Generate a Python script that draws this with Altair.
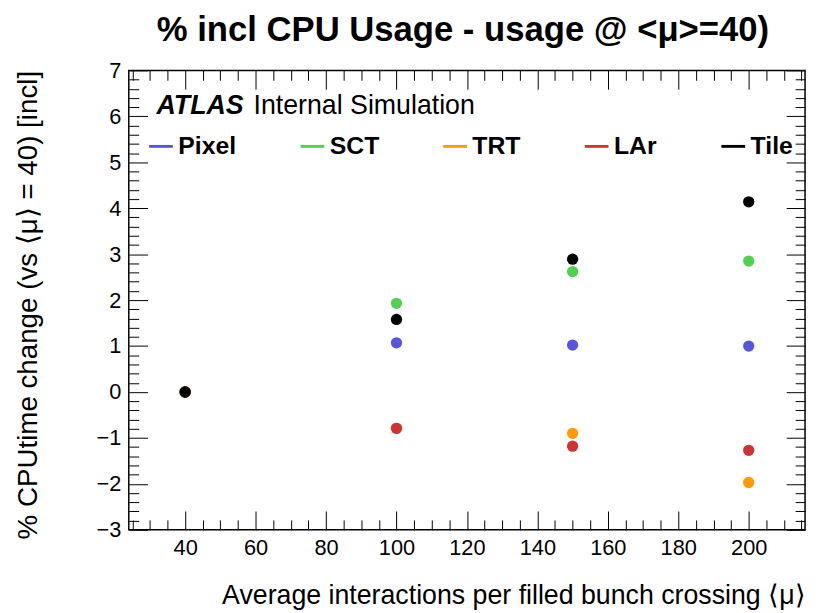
import altair as alt
import pandas as pd

# ---- data ----
mu = [40, 100, 150, 200]
detectors = ["Pixel", "SCT", "TRT", "LAr", "Tile"]
pixel = [0.0, 1.07, 1.02, 1.00]
sct = [0.0, 1.93, 2.62, 2.85]
trt = [0.0, -0.79, -0.90, -1.97]
lar = [0.0, -0.79, -1.18, -1.27]
tile = [0.0, 1.58, 2.89, 4.14]
colors = ["#5656dc", "#52d052", "#ff9a0a", "#cc3333", "#000000"]

x_major = [40, 60, 80, 100, 120, 140, 160, 180, 200]
x_minor = list(range(25, 216, 5))
y_major = list(range(-3, 8))
y_minor = [round(v / 5, 1) for v in range(-15, 36)]

title = "% incl CPU Usage - usage @ <μ>=40)"
x_title = "Average interactions per filled bunch crossing ⟨μ⟩"
y_title = "% CPUtime change (vs ⟨μ⟩ = 40) [incl]"

series = [pixel, sct, trt, lar, tile]
rows = []
for name, vals in zip(detectors, series):
    for m, v in zip(mu, vals):
        rows.append({"mu": m, "change": v, "detector": name})
df = pd.DataFrame(rows)

W, H = 683, 464
FONT = "Liberation Sans"
xs = alt.Scale(domain=[24, 216], nice=False, zero=False)
ys = alt.Scale(domain=[-3, 7], nice=False, zero=False)

x_tick_size = {"condition": {"test": "datum.value % 20 === 0", "value": 19}, "value": 10}
y_tick_size = {"condition": {"test": "abs(datum.value - round(datum.value)) < 0.001", "value": 19}, "value": 10}

points = alt.Chart(df).mark_circle(size=130, opacity=1).encode(
    x=alt.X("mu:Q", scale=xs, axis=alt.Axis(
        orient="bottom", values=x_major, ticks=False, domain=False,
        labelFontSize=22, labelPadding=8, title=x_title, titleAnchor="end",
        titleFontSize=27, titleFontWeight="normal", titlePadding=24)),
    y=alt.Y("change:Q", scale=ys, axis=alt.Axis(
        orient="left", values=y_major, ticks=False, domain=False,
        labelFontSize=22, labelPadding=8, title=y_title, titleAnchor="end",
        titleFontSize=28, titleFontWeight="normal", titlePadding=54)),
    color=alt.Color("detector:N", sort=detectors,
                    scale=alt.Scale(domain=detectors, range=colors),
                    legend=alt.Legend(
                        orient="none", legendX=20, legendY=64, direction="horizontal",
                        columns=5, title=None,
                        symbolType="M-1,-0.12L1,-0.12L1,0.12L-1,0.12Z",
                        symbolSize=576, symbolStrokeWidth=0,
                        labelFont=FONT, labelFontSize=25, labelFontWeight="bold",
                        labelColor="black", labelOffset=5, labelLimit=200,
                        columnPadding=64, gridAlign="each", padding=0)),
)

tickA = alt.Chart(df).mark_circle(opacity=0).encode(
    x=alt.X("mu:Q", scale=xs, axis=alt.Axis(
        orient="top", offset=-H, values=x_minor, tickSize=x_tick_size,
        labels=False, title=None, domain=False)),
    y=alt.Y("change:Q", scale=ys, axis=alt.Axis(
        orient="right", offset=-W, values=y_minor, tickSize=y_tick_size,
        labels=False, title=None, domain=False)),
)
tickB = alt.Chart(df).mark_circle(opacity=0).encode(
    x=alt.X("mu:Q", scale=xs, axis=alt.Axis(
        orient="bottom", offset=-H, values=x_minor, tickSize=x_tick_size,
        labels=False, title=None, domain=False)),
    y=alt.Y("change:Q", scale=ys, axis=alt.Axis(
        orient="left", offset=-W, values=y_minor, tickSize=y_tick_size,
        labels=False, title=None, domain=False)),
)

title_mark = alt.Chart(pd.DataFrame({"t": [title]})).mark_text(
    align="center", baseline="alphabetic", font=FONT, fontSize=35,
    fontWeight="bold", color="black"
).encode(x=alt.value(W / 2 - 4), y=alt.value(-30), text="t:N")

atlas = alt.Chart(pd.DataFrame({"t": ["ATLAS"]})).mark_text(
    align="left", baseline="alphabetic", font=FONT, fontSize=27,
    fontWeight="bold", fontStyle="italic", color="black"
).encode(x=alt.value(28), y=alt.value(44), text="t:N")
internal = alt.Chart(pd.DataFrame({"t": ["Internal Simulation"]})).mark_text(
    align="left", baseline="alphabetic", font=FONT, fontSize=27, color="black"
).encode(x=alt.value(126), y=alt.value(44), text="t:N")

chart = alt.layer(tickA, tickB, points, title_mark, atlas, internal).resolve_axis(
    x="independent", y="independent"
).properties(
    width=W, height=H,
    autosize=alt.AutoSizeParams(type="none"),
    padding={"left": 122, "top": 60, "right": 5, "bottom": 80},
).configure_axis(
    grid=False, labelFont=FONT, titleFont=FONT, tickColor="black",
    labelColor="black", titleColor="black", tickWidth=1
).configure_view(stroke="black", strokeWidth=1.5)

chart.save("out.html", embed_options={"renderer": "svg", "actions": False})
